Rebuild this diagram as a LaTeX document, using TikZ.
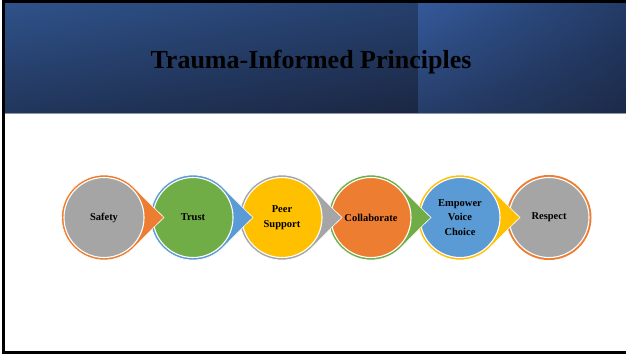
\documentclass[tikz,border=0pt]{standalone}
\usepackage{fontspec}
\setmainfont{Liberation Serif}
\usetikzlibrary{shadings}
\definecolor{cgray}{HTML}{A5A5A5}
\definecolor{corange}{HTML}{ED7D31}
\definecolor{cgreen}{HTML}{70AD47}
\definecolor{cblue}{HTML}{5B9BD5}
\definecolor{cyellow}{HTML}{FFC000}
\definecolor{bnA}{HTML}{2F528A}
\definecolor{bnB}{HTML}{253F6C}
\definecolor{bnC}{HTML}{21365C}
\definecolor{bnD}{HTML}{1B2743}
\definecolor{bnE}{HTML}{34599A}
\definecolor{bnF}{HTML}{233B66}
\definecolor{bnG}{HTML}{263D69}
\definecolor{bnH}{HTML}{1C2A48}
\tikzset{
  x=1pt, y=-1pt,
  inner/.style={circle, minimum size=80pt, inner sep=0pt, draw=white, line width=1.1pt,
    align=center, font=\fontsize{10.5}{14.5}\selectfont\bfseries, text=black},
  ring/.style={draw=white, line width=0.6pt},
  frameline/.style={line width=3pt, black}
}
\newcommand{\arrowshape}[2]{%
  \path[ring, fill=#2] ([shift={(49:42.5)}]#1) arc[start angle=49, end angle=311, radius=42.5]
    .. controls ([shift={(39,-21)}]#1) and ([shift={(50,-9.5)}]#1) .. ([shift={(60,0)}]#1)
    .. controls ([shift={(50,9.5)}]#1) and ([shift={(39,21)}]#1) .. cycle;}
\begin{document}
\begin{tikzpicture}
\useasboundingbox (0,0) rectangle (626,354);
\fill[white] (0,0) rectangle (626,354);
% banner
\shade[upper left=bnA, upper right=bnB, lower left=bnC, lower right=bnD] (5,3) rectangle (418,112.5);
\shade[upper left=bnE, upper right=bnF, lower left=bnG, lower right=bnH] (418,3) rectangle (626,112.5);
\draw[line width=1pt, color={rgb,255:red,140;green,150;blue,168}] (5,113) -- (626,113);
\node[font=\fontsize{26}{30}\selectfont\bfseries, text=black, anchor=base] (title) at (311,68) {Trauma-Informed Principles};
% frame
\draw[frameline] (626,1.5) -- (3.5,1.5) -- (3.5,352) -- (626,352);
% items, right to left
\coordinate (c6) at (549,217.5);
\coordinate (c5) at (460,217.5);
\coordinate (c4) at (371,217.5);
\coordinate (c3) at (282,217.5);
\coordinate (c2) at (193,217.5);
\coordinate (c1) at (104,217.5);
\fill[corange] (c6) circle[radius=42.5];
\node[inner, fill=cgray] (respect) at (c6) {Respect};
\arrowshape{c5}{cyellow}
\node[inner, fill=cblue] (empower) at (c5) {Empower\\Voice\\Choice};
\arrowshape{c4}{cgreen}
\node[inner, fill=corange] (collab) at (c4) {Collaborate};
\arrowshape{c3}{cgray}
\node[inner, fill=cyellow] (peer) at (c3) {Peer\\Support};
\arrowshape{c2}{cblue}
\node[inner, fill=cgreen] (trust) at (c2) {Trust};
\arrowshape{c1}{corange}
\node[inner, fill=cgray] (safety) at (c1) {Safety};
\end{tikzpicture}
\end{document}
